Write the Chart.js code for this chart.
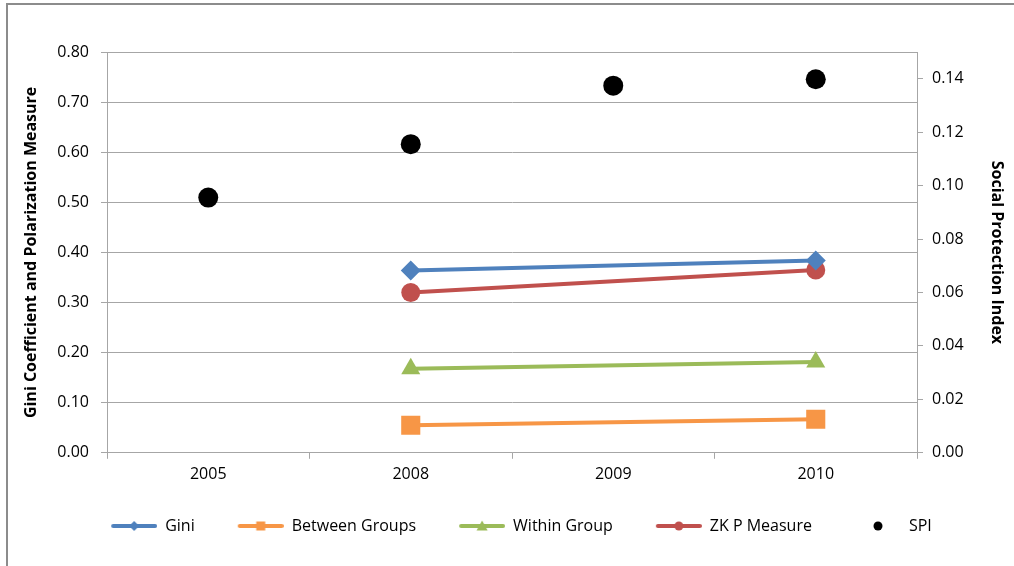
<!DOCTYPE html>
<html>
<head>
<meta charset="utf-8">
<script src="https://cdn.jsdelivr.net/npm/chart.js@4"></script>
<style>
  html, body { margin: 0; padding: 0; background: #fff; }
  #wrap { position: relative; width: 1014px; height: 566px; overflow: hidden; }
  #frame { position: absolute; left: 6px; top: 3px; width: 1100px; height: 700px;
           border-left: 2px solid #8c8c8c; border-top: 2px solid #8c8c8c; }
  canvas { position: absolute; left: 0; top: 0; }
</style>
</head>
<body>
<div id="wrap">
  <div id="frame"></div>
  <canvas id="c" width="1014" height="566"></canvas>
</div>
<script>
const years = ['2005', '2008', '2009', '2010'];
const gini = [null, 0.364, null, 0.384];
const betweenGroups = [null, 0.055, null, 0.067];
const withinGroup = [null, 0.168, null, 0.181];
const zkpMeasure = [null, 0.320, null, 0.365];
const spi = [0.0955, 0.1155, 0.1374, 0.1398];

const leftTicks = { min: 0, max: 0.8, step: 0.1 };
const rightTicks = { min: 0, max: 0.15, step: 0.02, last: 0.14 };

const FONT = '"Open Sans", Lato, sans-serif';
const GRID = '#a6a6a6';
const LEGEND_GAP = 28;      // spacing between legend entries
const SWATCH_W = 46;        // drawn width of a legend swatch
const LEAD = 15;            // blank room before each swatch

// Legend swatches: a short line with the series marker in its middle,
// preceded by some blank room that widens the gap between entries
function swatch(color, marker, lead) {
  const c = document.createElement('canvas');
  c.width = SWATCH_W + lead; c.height = 14;
  const g = c.getContext('2d');
  g.translate(lead, 0);
  g.strokeStyle = color; g.fillStyle = color;
  if (marker !== 'dot') {
    g.lineWidth = 4; g.lineCap = 'round';
    g.beginPath(); g.moveTo(2, 7); g.lineTo(44, 7); g.stroke();
  }
  const cx = 23, cy = 7;
  g.beginPath();
  if (marker === 'diamond') {
    g.moveTo(cx, cy - 5); g.lineTo(cx + 5, cy); g.lineTo(cx, cy + 5); g.lineTo(cx - 5, cy);
  } else if (marker === 'square') {
    g.rect(cx - 4.5, cy - 4.5, 9, 9);
  } else if (marker === 'triangle') {
    g.moveTo(cx, cy - 5.5); g.lineTo(cx + 5.5, cy + 4.5); g.lineTo(cx - 5.5, cy + 4.5);
  } else {
    g.arc(cx, cy, 4.5, 0, Math.PI * 2);
  }
  g.closePath(); g.fill();
  return c;
}

function lineSeries(label, data, color, style, radius, marker) {
  return {
    type: 'line', label, data, yAxisID: 'y',
    borderColor: color, backgroundColor: color,
    borderWidth: 4, pointStyle: style, pointRadius: radius,
    pointBorderWidth: 0, pointHoverRadius: radius,
    spanGaps: true, tension: 0, order: 2,
    legendSwatch: swatch(color, marker, LEAD)
  };
}

const datasets = [
  lineSeries('Gini', gini, '#4f81bd', 'rectRot', 10, 'diamond'),
  lineSeries('Between Groups', betweenGroups, '#f79646', 'rect', 13.5, 'square'),
  lineSeries('Within Group', withinGroup, '#9bbb59', 'triangle', 11, 'triangle'),
  lineSeries('ZK P Measure', zkpMeasure, '#c0504d', 'circle', 9.5, 'circle'),
  {
    type: 'line', label: 'SPI', data: spi, yAxisID: 'y1',
    showLine: false, borderColor: '#000', backgroundColor: '#000',
    pointStyle: 'circle', pointRadius: 10, pointBorderWidth: 0, pointHoverRadius: 10,
    order: 1, legendSwatch: swatch('#000', 'dot', LEAD)
  }
];

new Chart(document.getElementById('c'), {
  data: { labels: years, datasets },
  options: {
    responsive: false,
    animation: false,
    events: [],
    layout: { padding: { left: 22, right: 8, top: 52, bottom: 22 } },
    plugins: {
      tooltip: { enabled: false },
      legend: {
        position: 'bottom',
        labels: {
          usePointStyle: true,
          pointStyleWidth: SWATCH_W + LEAD,
          padding: LEGEND_GAP,
          color: '#000',
          font: { family: FONT, size: 16 },
          generateLabels(chart) {
            return chart.data.datasets.map((ds, i) => ({
              text: ds.label, pointStyle: ds.legendSwatch,
              fillStyle: ds.borderColor, strokeStyle: ds.borderColor,
              lineWidth: 0, hidden: false, datasetIndex: i, fontColor: '#000'
            }));
          }
        }
      }
    },
    scales: {
      x: {
        type: 'category',
        offset: true,
        grid: { offset: true, drawOnChartArea: false, drawTicks: true, tickLength: 6, color: GRID },
        border: { color: GRID, width: 1 },
        ticks: { color: '#000', font: { family: FONT, size: 16 }, padding: 6 }
      },
      y: {
        position: 'left',
        min: leftTicks.min, max: leftTicks.max,
        grid: { color: GRID, tickLength: 6, drawTicks: true },
        border: { color: GRID, width: 1 },
        ticks: {
          stepSize: leftTicks.step, padding: 12, color: '#000',
          font: { family: FONT, size: 16 },
          callback: v => Number(v).toFixed(2)
        },
        title: {
          display: true, text: 'Gini Coefficient and Polarization Measure',
          color: '#000', font: { family: FONT, size: 16, weight: 'bold' }, padding: { top: 0, bottom: 4 }
        },
        afterFit(s) { s.width = 85; }
      },
      y1: {
        position: 'right',
        min: rightTicks.min, max: rightTicks.max,
        grid: { drawOnChartArea: false, color: GRID, tickLength: 6, drawTicks: true },
        border: { color: GRID, width: 1 },
        afterBuildTicks(s) { s.ticks = s.ticks.filter(t => t.value <= rightTicks.last + 1e-9); },
        ticks: {
          stepSize: rightTicks.step, padding: 9, color: '#000',
          font: { family: FONT, size: 16 },
          callback: v => Number(v).toFixed(2)
        },
        title: {
          display: true, text: 'Social Protection Index',
          color: '#000', font: { family: FONT, size: 16, weight: 'bold' }, padding: { top: 0, bottom: 6 }
        },
        afterFit(s) { s.width = 89; }
      }
    }
  }
});
</script>
</body>
</html>
